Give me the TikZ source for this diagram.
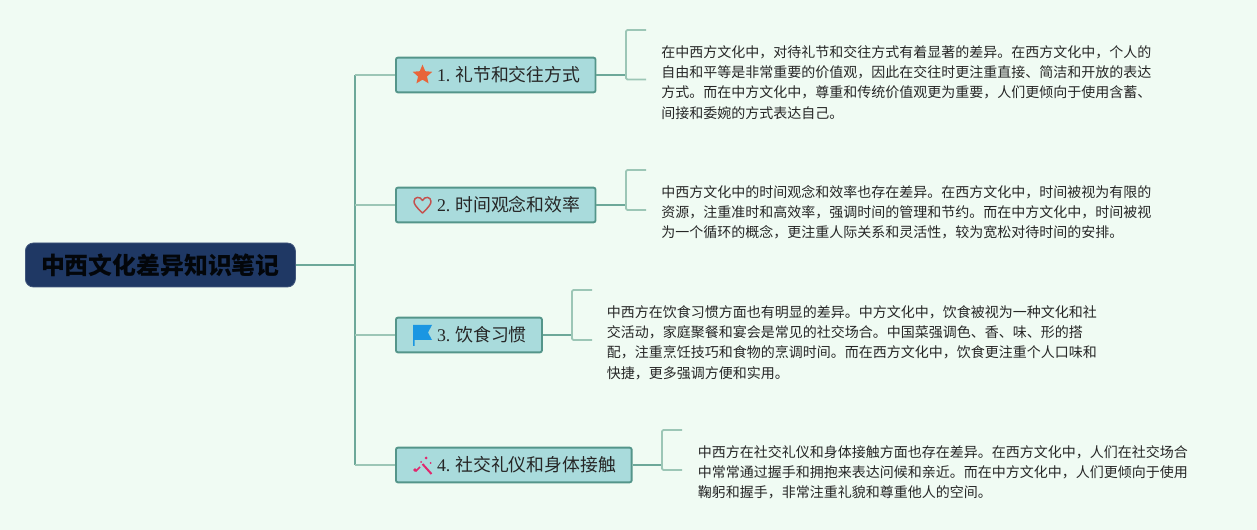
\documentclass[tikz,border=0pt]{standalone}
\usepackage{fontspec}
\setmainfont{Liberation Serif}
\newfontfamily\cjk{Noto Sans CJK SC}
\usepackage{xcolor}
\usetikzlibrary{positioning, shapes.geometric}
\definecolor{pagebg}{HTML}{F0FBF3}
\definecolor{rootfill}{HTML}{1F3864}
\definecolor{boxfill}{HTML}{A9DBDC}
\definecolor{boxline}{HTML}{54958A}
\definecolor{trunkline}{HTML}{6DA899}
\definecolor{leafline}{HTML}{9CC6B6}
\definecolor{starcol}{HTML}{E8653A}
\definecolor{heartcol}{HTML}{C4504E}
\definecolor{flagcol}{HTML}{1A96E2}
\definecolor{wandcol}{HTML}{E0286E}
\tikzset{
  rootbox/.style={draw=rootfill!85!white, fill=rootfill, rounded corners=6pt, line width=0.6pt, minimum width=202.5pt, minimum height=33pt, inner sep=0pt, anchor=west, font=\cjk\bfseries\fontsize{17.9}{20}\selectfont, text=black!90!rootfill},
  topicbox/.style={draw=boxline, fill=boxfill, rounded corners=1.5pt, line width=1.4pt, minimum height=26pt, inner xsep=0pt, inner ysep=0pt, anchor=west, align=left, font=\fontsize{13.4}{16}\selectfont, text=black!85},
  notetext/.style={anchor=north west, inner sep=0pt, align=left, font=\cjk\fontsize{10.5}{15.25}\selectfont, text=black!85},
  trunk/.style={draw=trunkline, line width=1.1pt},
  twig/.style={draw=leafline, line width=1.3pt, rounded corners=1pt},
  stem/.style={draw=trunkline, line width=1.3pt}
}
\begin{document}
\begin{tikzpicture}[x=0.75pt, y=-0.75pt]
\fill[pagebg] (0,0) rectangle (1257,530);
\useasboundingbox (0,0) rectangle (1257,530);
% Root
\node[rootbox] (root) at (25,265) {中西文化差异知识笔记};
% Topics
\node[topicbox, text width=149.7pt] (t1) at (395,75) {\hspace*{30.8pt}1.\hspace{3.7pt}{\cjk 礼节和交往方式}};
\node[topicbox, text width=149.7pt] (t2) at (395,205) {\hspace*{30.8pt}2.\hspace{3.7pt}{\cjk 时间观念和效率}};
\node[topicbox, text width=109.5pt] (t3) at (395,335) {\hspace*{30.8pt}3.\hspace{3.7pt}{\cjk 饮食习惯}};
\node[topicbox, text width=176.8pt] (t4) at (395,465) {\hspace*{30.8pt}4.\hspace{3.7pt}{\cjk 社交礼仪和身体接触}};
% Icons
\node[star, star points=5, star point ratio=2.2, fill=starcol, inner sep=0pt, minimum size=15.5pt] (i1) at (422.5,75) {};
\draw[draw=heartcol, line width=1.1pt, line join=round] (422.5,213) .. controls (416,207) and (414,204) .. (414,201.5) .. controls (414,196.5) and (420.5,196) .. (422.5,200.5) .. controls (424.5,196) and (431,196.5) .. (431,201.5) .. controls (431,204) and (429,207) .. (422.5,213) -- cycle;
\fill[flagcol] (413,325) -- (432,325) -- (428,332.5) -- (432,340) -- (414.5,340) -- (414.5,346) -- (413,346) -- cycle;
\draw[draw=wandcol, line width=1.5pt] (422.5,464) -- (431.5,474);
\draw[draw=wandcol, line width=1.3pt] (415.5,471.5) -- (420,467);
\fill[wandcol] (415,470) circle (1.8) (426,458) circle (1.5) (430.5,463) circle (1) (421,462) circle (1);
% Notes
\node[notetext] (n1) at (661,45) {在中西方文化中，对待礼节和交往方式有着显著的差异。在西方文化中，个人的\\自由和平等是非常重要的价值观，因此在交往时更注重直接、简洁和开放的表达\\方式。而在中方文化中，尊重和传统价值观更为重要，人们更倾向于使用含蓄、\\间接和委婉的方式表达自己。};
\node[notetext] (n2) at (661,185) {中西方文化中的时间观念和效率也存在差异。在西方文化中，时间被视为有限的\\资源，注重准时和高效率，强调时间的管理和节约。而在中方文化中，时间被视\\为一个循环的概念，更注重人际关系和灵活性，较为宽松对待时间的安排。};
\node[notetext] (n3) at (606.5,305) {中西方在饮食习惯方面也有明显的差异。中方文化中，饮食被视为一种文化和社\\交活动，家庭聚餐和宴会是常见的社交场合。中国菜强调色、香、味、形的搭\\配，注重烹饪技巧和食物的烹调时间。而在西方文化中，饮食更注重个人口味和\\快捷，更多强调方便和实用。};
\node[notetext] (n4) at (697.5,445) {中西方在社交礼仪和身体接触方面也存在差异。在西方文化中，人们在社交场合\\中常常通过握手和拥抱来表达问候和亲近。而在中方文化中，人们更倾向于使用\\鞠躬和握手，非常注重礼貌和尊重他人的空间。};
% Trunk
\coordinate (j0) at (355,265);
\coordinate (jtop) at (355,75);
\coordinate (jbot) at (355,465);
\coordinate (j2) at (355,205);
\coordinate (j3) at (355,335);
\draw[stem] (root.east) -- (j0);
\draw[trunk] (jtop) -- (jbot);
\draw[twig] (jtop) -- (t1.west);
\draw[twig] (j2) -- (t2.west);
\draw[twig] (j3) -- (t3.west);
\draw[twig] (jbot) -- (t4.west);
% Brackets
\coordinate (b1a) at (646,30);
\coordinate (b1b) at (646,79.5);
\coordinate (b2a) at (646,170);
\coordinate (b2b) at (646,210);
\coordinate (b3a) at (592,290);
\coordinate (b3b) at (592,340);
\coordinate (b4a) at (682,430);
\coordinate (b4b) at (682,470);
\draw[stem] (t1.east) -- (626,75);
\draw[stem] (t2.east) -- (626,205);
\draw[stem] (t3.east) -- (572,335);
\draw[stem] (t4.east) -- (662,465);
\draw[twig] (b1a) -- (626,30) -- (626,79.5) -- (b1b);
\draw[twig] (b2a) -- (626,170) -- (626,210) -- (b2b);
\draw[twig] (b3a) -- (572,290) -- (572,340) -- (b3b);
\draw[twig] (b4a) -- (662,430) -- (662,470) -- (b4b);
\end{tikzpicture}
\end{document}
